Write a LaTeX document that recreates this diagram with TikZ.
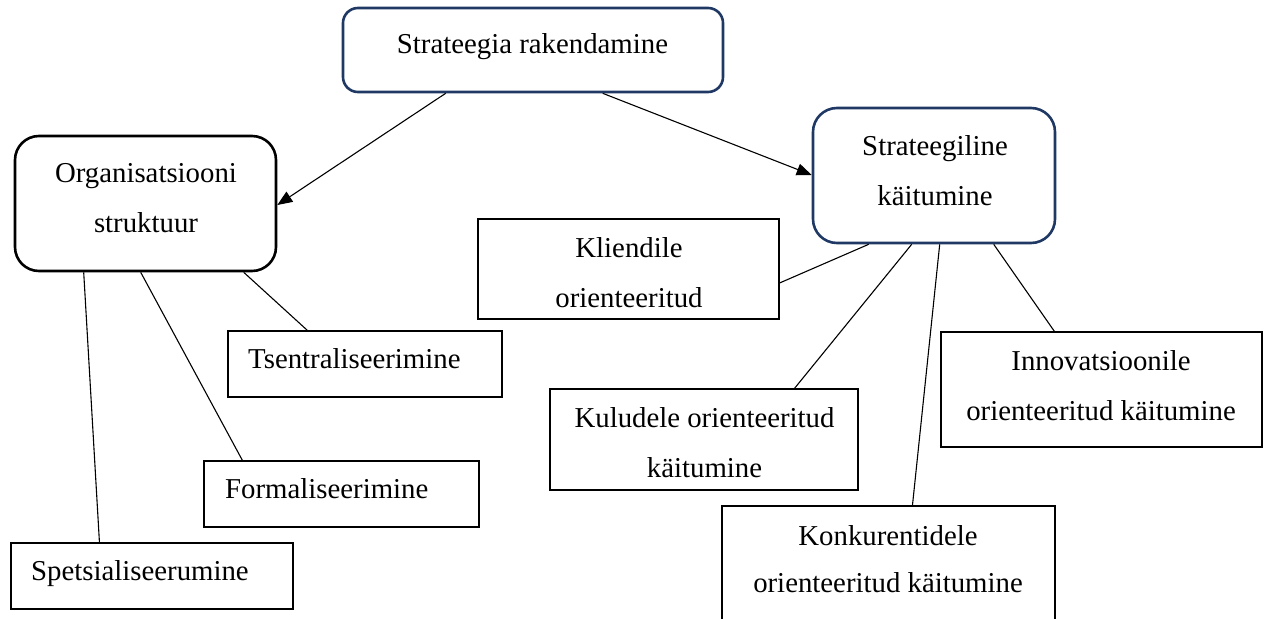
\documentclass[tikz,border=0pt]{standalone}
\usepackage{fontspec}
\setmainfont{Liberation Serif}
\usetikzlibrary{arrows.meta}
\definecolor{navy}{RGB}{31,56,100}
\tikzset{
  rbox/.style={draw=navy, line width=2.6pt, rounded corners=15pt, inner sep=0pt},
  obox/.style={draw=black, line width=2.6pt, rounded corners=24pt, inner sep=0pt},
  pbox/.style={draw=black, line width=1.1pt, inner sep=0pt},
  txt/.style={inner sep=0pt, align=center, font=\fontsize{28.8}{50}\selectfont, anchor=base},
  ltxt/.style={inner sep=0pt, font=\fontsize{28.8}{50}\selectfont, anchor=base west},
  conn/.style={draw=black, line width=1.1pt},
  arr/.style={conn, -{Triangle[length=15pt,width=12pt]}}
}
\begin{document}
\begin{tikzpicture}[x=1pt,y=-1pt]
\useasboundingbox (0,0) rectangle (1265,618);
% boxes
\node[rbox, minimum width=380pt, minimum height=84pt] (sr) at (533,50) {};
\node[obox, minimum width=261pt, minimum height=135pt] (os) at (145.5,203.5) {};
\node[rbox, rounded corners=24pt, minimum width=242pt, minimum height=135pt] (sk) at (934,175.5) {};
\node[pbox, minimum width=301pt, minimum height=100pt] (kl) at (628.5,269) {};
\node[pbox, minimum width=274pt, minimum height=66pt] (ts) at (365,364) {};
\node[pbox, minimum width=275pt, minimum height=66pt] (fo) at (341.5,494) {};
\node[pbox, minimum width=282pt, minimum height=66pt] (sp) at (152,576) {};
\node[pbox, minimum width=308pt, minimum height=101pt] (ku) at (704,439.5) {};
\node[pbox, minimum width=321pt, minimum height=115pt] (in) at (1101.5,389.5) {};
\node[pbox, minimum width=333pt, minimum height=134pt] (ko) at (888.5,573) {};
% texts (multi-line: anchor is the baseline of the last line)
\node[txt] (srt) at (532.5,53) {Strateegia rakendamine};
\node[txt] (ost) at (146,232) {Organisatsiooni\\struktuur};
\node[txt] (skt) at (935,205) {Strateegiline\\käitumine};
\node[txt] (klt) at (629,307) {Kliendile\\orienteeritud};
\node[ltxt] (tst) at (248,368) {Tsentraliseerimine};
\node[ltxt] (fot) at (225,498) {Formaliseerimine};
\node[ltxt] (spt) at (31,580) {Spetsialiseerumine};
\node[txt] (kut) at (704.5,477) {Kuludele orienteeritud\\käitumine};
\node[txt] (int) at (1101,420) {Innovatsioonile\\orienteeritud käitumine};
\node[txt, font=\fontsize{28.8}{47}\selectfont] (kot) at (888,592) {Konkurentidele\\orienteeritud käitumine};
% connectors
\draw[arr] ([xshift=104pt]sr.south west) -- ([yshift=-1.5pt]os.east);
\draw[arr] ([xshift=261pt]sr.south west) -- ([yshift=0.5pt]sk.west);
\draw[conn] ([xshift=70pt]os.south west) -- ([xshift=89pt]sp.north west);
\draw[conn] ([xshift=127pt]os.south west) -- ([xshift=39pt]fo.north west);
\draw[conn] ([xshift=230pt]os.south west) -- ([xshift=80pt]ts.north west);
\draw[conn] ([xshift=57pt]sk.south west) -- ([yshift=-14pt]kl.east);
\draw[conn] ([xshift=100pt]sk.south west) -- ([xshift=245pt]ku.north west);
\draw[conn] ([xshift=128pt]sk.south west) -- ([xshift=191pt]ko.north west);
\draw[conn] ([xshift=182pt]sk.south west) -- ([xshift=114pt]in.north west);
\end{tikzpicture}
\end{document}
